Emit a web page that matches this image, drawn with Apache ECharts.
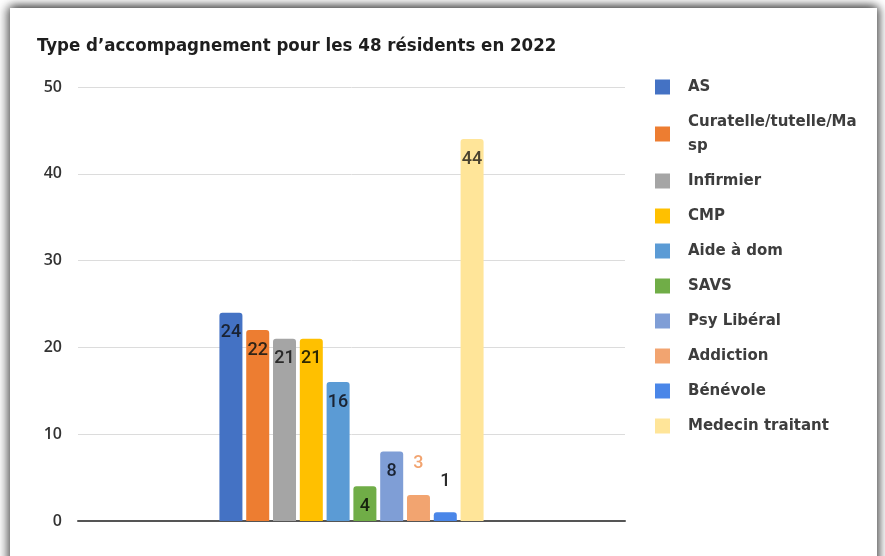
<!DOCTYPE html>
<html>
<head>
<meta charset="utf-8">
<script src="https://cdn.jsdelivr.net/npm/echarts@6/dist/echarts.min.js"></script>
<style>
  html, body { margin: 0; padding: 0; background: #fff; overflow: hidden; }
  .card {
    position: absolute; left: 10px; top: 8px; width: 867px; height: 570px;
    background: #fff;
    box-shadow: 0 -3px 9px rgba(0,0,0,0.5), -5px 0 9px rgba(0,0,0,0.3), 4px 0 8px rgba(0,0,0,0.35);
  }
  #chart { position: absolute; left: 0; top: 0; width: 885px; height: 556px; }
</style>
</head>
<body>
<div class="card"></div>
<div id="chart"></div>
<script>
  const titleText = 'Type d\u2019accompagnement pour les 48 r\u00e9sidents en 2022';
  const seriesNames = ['AS', 'Curatelle/tutelle/Ma\nsp', 'Infirmier', 'CMP', 'Aide \u00e0 dom', 'SAVS',
    'Psy Lib\u00e9ral', 'Addiction', 'B\u00e9n\u00e9vole', 'Medecin traitant'];
  const values = [24, 22, 21, 21, 16, 4, 8, 3, 1, 44];
  const colors = ['#4472c4', '#ed7d31', '#a5a5a5', '#ffc000', '#5b9bd5', '#70ad47',
    '#7f9ed6', '#f2a470', '#4a86e8', '#ffe599'];
  // labels drawn above the bar instead of inside
  const labelOutside = [false, false, false, false, false, false, false, true, true, false];
  const labelColors = ['#1a2333', '#2e2418', '#2a2a2a', '#2e2800', '#1a2333', '#16220e',
    '#1a2333', '#f2a470', '#2a2a2a', '#4a4230'];

  const chart = echarts.init(document.getElementById('chart'));

  const series = seriesNames.map((name, i) => ({
    name: name,
    type: 'bar',
    data: [values[i]],
    barWidth: 23,
    barGap: '16.5%',
    itemStyle: { color: colors[i], borderRadius: [3, 3, 0, 0] },
    label: {
      show: true,
      position: labelOutside[i] ? 'top' : 'insideTop',
      distance: labelOutside[i] ? 22 : 11,
      fontFamily: 'Roboto, sans-serif',
      fontSize: 18,
      fontWeight: 500,
      color: labelColors[i],
    },
  }));

  chart.setOption({
    animation: false,
    title: {
      text: titleText,
      left: 37,
      top: 37,
      padding: 0,
      textStyle: { fontFamily: '"DejaVu Sans Condensed", "DejaVu Sans", sans-serif', fontSize: 18.5, fontWeight: 'bold', color: '#1e1e1e' },
    },
    legend: {
      orient: 'vertical',
      left: 655,
      top: 75,
      padding: 0,
      itemWidth: 15,
      itemHeight: 15,
      itemGap: 11,
      icon: 'rect',
      textStyle: { fontFamily: '"DejaVu Sans", sans-serif', fontSize: 15, fontWeight: 'bold', color: '#3d3d3d', lineHeight: 24, padding: [0, 0, 0, 13] },
      data: seriesNames,
    },
    grid: { left: 78, right: 260, top: 87, bottom: 35 },
    xAxis: {
      type: 'category',
      data: [''],
      axisLine: { lineStyle: { color: '#555', width: 2 } },
      axisTick: { show: false },
      axisLabel: { show: false },
    },
    yAxis: {
      type: 'value',
      min: 0,
      max: 50,
      interval: 10,
      axisLine: { show: false },
      axisTick: { show: false },
      axisLabel: { fontFamily: '"Open Sans", sans-serif', fontSize: 16, fontWeight: 600, color: '#333', margin: 16 },
      splitLine: { lineStyle: { color: '#dcdcdc', width: 1 } },
    },
    series: series,
  });
</script>
</body>
</html>
